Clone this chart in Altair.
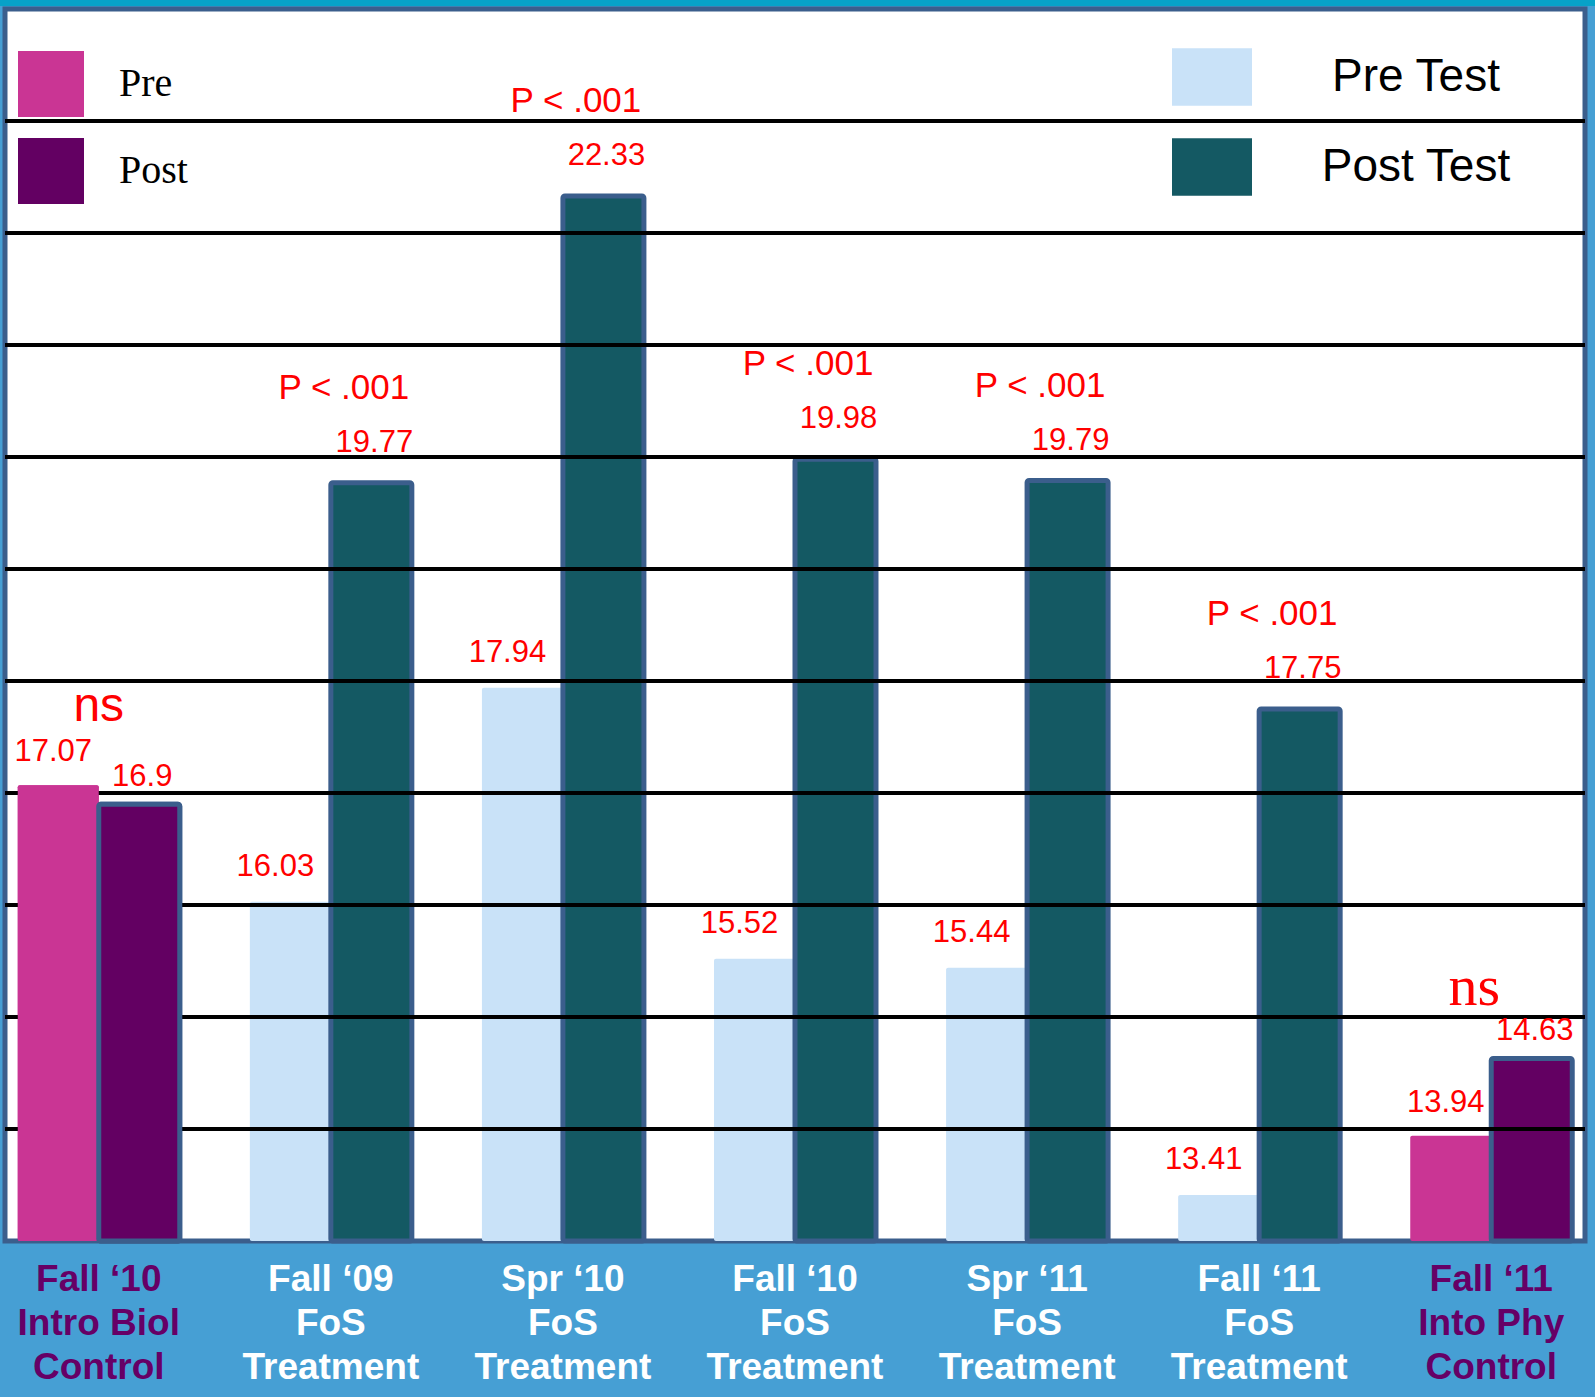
import altair as alt
import pandas as pd

# ---------------- data ----------------
groups = ["Fall ‘10|Intro Biol|Control", "Fall ‘09|FoS|Treatment", "Spr ‘10|FoS|Treatment",
          "Fall ‘10|FoS|Treatment", "Spr ‘11|FoS|Treatment", "Fall ‘11|FoS|Treatment",
          "Fall ‘11|Into Phy|Control"]
group_type = ["control", "treatment", "treatment", "treatment", "treatment", "treatment", "control"]
pre_values = [17.07, 16.03, 17.94, 15.52, 15.44, 13.41, 13.94]
post_values = [16.9, 19.77, 22.33, 19.98, 19.79, 17.75, 14.63]
pre_labels = ["17.07", "16.03", "17.94", "15.52", "15.44", "13.41", "13.94"]
post_labels = ["16.9", "19.77", "22.33", "19.98", "19.79", "17.75", "14.63"]
significance = ["ns", "P < .001", "P < .001", "P < .001", "P < .001", "P < .001", "ns"]
grid_values = [14, 15, 16, 17, 18, 19, 20, 21, 22, 23]
y_domain = [13, 24]
legend_control = ["Pre", "Post"]
legend_test = ["Pre Test", "Post Test"]

rows = []
for g, t, pv, qv, pl, ql in zip(groups, group_type, pre_values, post_values, pre_labels, post_labels):
    ctrl = t == "control"
    rows.append(dict(group=g, type=t, phase="pre", value=pv, label=pl,
                     kind=legend_control[0] if ctrl else legend_test[0]))
    rows.append(dict(group=g, type=t, phase="post", value=qv, label=ql,
                     kind=legend_control[1] if ctrl else legend_test[1]))
bars_df = pd.DataFrame(rows)
sig_df = pd.DataFrame(dict(group=groups, type=group_type, sig=significance,
                           anchor=[max(a, b) for a, b in zip(pre_values, post_values)]))
grid_df = pd.DataFrame(dict(v=grid_values))
cat_df = pd.DataFrame(dict(group=groups, type=group_type))

# ---------------- styling ----------------
W, H = 1580, 1232
SANS = "Liberation Sans"
SERIF = "Liberation Serif"
RED = "#FF0000"
BORDER = "#3B5E8C"

x_scale = alt.Scale(domain=groups, paddingInner=0.302, paddingOuter=0.055)
y_scale = alt.Scale(domain=y_domain, zero=False, nice=False)
xo_scale = alt.Scale(domain=["pre", "post"], paddingInner=0, paddingOuter=0)

X = alt.X("group:N", scale=x_scale, axis=None)
Y = alt.Y("value:Q", scale=y_scale, axis=None)
XO = alt.XOffset("phase:N", scale=xo_scale)
SW = alt.when(alt.datum.phase == "post").then(alt.value(5)).otherwise(alt.value(0))

ctrl_color = alt.Color(
    "kind:N",
    scale=alt.Scale(domain=legend_control, range=["#CA3594", "#630062"]),
    legend=alt.Legend(orient="none", legendX=13, legendY=42, title=None,
                      symbolType="square", symbolSize=4356, symbolStrokeWidth=0,
                      symbolOpacity=1, labelFont=SERIF, labelFontSize=40,
                      labelColor="black", labelOffset=35, rowPadding=21,
                      padding=0, labelLimit=400, direction="vertical"),
)
test_fill = alt.Fill(
    "kind:N",
    scale=alt.Scale(domain=legend_test, range=["#C9E2F8", "#145963"]),
    legend=alt.Legend(orient="none", legendX=1167, legendY=28, title=None,
                      symbolType="M-1,-0.72H1V0.72H-1Z", symbolSize=6400,
                      symbolStrokeWidth=0, symbolOpacity=1, labelFont=SANS,
                      labelFontSize=46, labelColor="black", labelOffset=164,
                      labelAlign="center", rowPadding=21, padding=0,
                      labelLimit=400, direction="vertical"),
)

base = alt.Chart(bars_df)

# decorative teal strip along the top edge of the frame
top_strip = alt.Chart(grid_df.head(1)).mark_rect(color="#07A2C8").encode(
    x=alt.value(-5), x2=alt.value(W + 10), y=alt.value(-9), y2=alt.value(-3)
)

test_bars = base.transform_filter("datum.type == 'treatment'").mark_bar(
    stroke=BORDER, cornerRadius=2, opacity=1
).encode(x=X, xOffset=XO, y=Y, y2=alt.datum(y_domain[0]), fill=test_fill, strokeWidth=SW)

ctrl_bars = base.transform_filter("datum.type == 'control'").mark_bar(
    stroke=BORDER, cornerRadius=2, opacity=1
).encode(x=X, xOffset=XO, y=Y, y2=alt.datum(y_domain[0]), color=ctrl_color, strokeWidth=SW)

ctrl_bars_first = base.transform_filter(alt.datum.group == groups[0]).mark_bar(
    stroke=BORDER, cornerRadius=2, opacity=1
).encode(x=X, xOffset=XO, y=Y, y2=alt.datum(y_domain[0]), color=ctrl_color, strokeWidth=SW)

rules = alt.Chart(grid_df).mark_rule(color="black", strokeWidth=4).encode(
    y=alt.Y("v:Q", scale=y_scale, axis=None), x=alt.value(0), x2=alt.value(W)
)


def value_text(flt, dx, dy):
    return base.transform_filter(flt).mark_text(
        font=SANS, fontSize=31, color=RED, dx=dx, dy=dy, baseline="middle"
    ).encode(x=X, xOffset=XO, y=Y, text="label:N")


pre_ctrl_txt = value_text("datum.phase == 'pre' && datum.type == 'control'", -5, -33)
pre_test_txt = value_text("datum.phase == 'pre' && datum.type == 'treatment'", -15, -35)
post_ctrl_txt = value_text("datum.phase == 'post' && datum.type == 'control'", 3, -27)
post_test_txt = value_text("datum.phase == 'post' && datum.type == 'treatment'", 3, -40)

sig_base = alt.Chart(sig_df)
SY = alt.Y("anchor:Q", scale=y_scale, axis=None)
p_txt = sig_base.transform_filter("datum.sig != 'ns'").mark_text(
    font=SANS, fontSize=35, color=RED, dx=13, dy=-95, baseline="middle"
).encode(x=X, y=SY, text="sig:N")
ns_left = sig_base.transform_filter(alt.datum.group == groups[0]).mark_text(
    font=SANS, fontSize=48, color=RED, dx=0, dy=-78, baseline="middle"
).encode(x=X, y=SY, text="sig:N")
ns_right = sig_base.transform_filter(alt.datum.group == groups[-1]).mark_text(
    font=SERIF, fontSize=58, color=RED, dx=-17, dy=-70, baseline="middle"
).encode(x=X, y=SY, text="sig:N")

cat_labels = alt.Chart(cat_df).mark_text(
    font=SANS, fontWeight="bold", fontSize=37, lineBreak="|", lineHeight=44,
    baseline="middle", align="center"
).encode(
    x=X,
    y=alt.value(1271),
    text="group:N",
    color=alt.when(alt.datum.type == "control").then(alt.value("#660066")).otherwise(alt.value("white")),
)

chart = alt.layer(
    top_strip, test_bars, ctrl_bars, rules, ctrl_bars_first,
    pre_ctrl_txt, pre_test_txt, post_ctrl_txt, post_test_txt,
    p_txt, ns_left, ns_right, cat_labels
).properties(
    width=W, height=H,
    padding={"left": 5, "top": 9, "right": 10, "bottom": 156},
    autosize=alt.AutoSizeParams(type="none"),
    background="#469FD4",
).configure_view(fill="white", stroke=BORDER, strokeWidth=5)

chart.save("out.html", embed_options={"renderer": "svg", "actions": False})
